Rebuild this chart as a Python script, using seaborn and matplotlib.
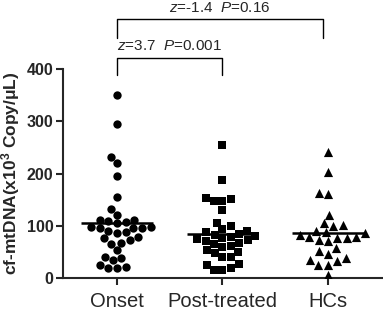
import numpy as np
import pandas as pd
import seaborn as sns
import matplotlib.pyplot as plt

groups = ['Onset', 'Post-treated', 'HCs']
onset = [351, 294, 232, 221, 196, 156, 133, 121,
         112, 111, 109, 107, 105, 98, 97, 96, 95, 95,
         90, 88, 86, 78, 76, 72, 68, 66, 54, 41, 38, 34,
         25, 22, 20, 20]
post_treated = [254, 188, 153, 152, 147, 147, 130, 106, 99, 93,
                90, 88, 85, 83, 80, 78, 76, 74, 72, 70, 67, 65, 62, 60,
                54, 50, 47, 41, 40, 27, 25, 19, 16, 15]
hcs = [242, 202, 163, 160, 121, 106, 102, 99, 90, 88, 86, 82, 79, 78,
       77, 77, 73, 71, 57, 51, 46, 38, 34, 32, 25, 24, 6]
markers = ['o', 's', '^']
stats = [('$z$=3.7  $P$=0.001', 0, 1), ('$z$=-1.4  $P$=0.16', 0, 1.95)]

df = pd.DataFrame({
    'group': ['Onset'] * len(onset) + ['Post-treated'] * len(post_treated) + ['HCs'] * len(hcs),
    'value': onset + post_treated + hcs,
})

sns.set_style('ticks')
plt.rcParams['font.family'] = ['Liberation Sans', 'DejaVu Sans']
plt.rcParams['mathtext.fontset'] = 'custom'
plt.rcParams['mathtext.it'] = 'Liberation Sans:italic'
plt.rcParams['mathtext.rm'] = 'Liberation Sans'
plt.rcParams['mathtext.bf'] = 'Liberation Sans:bold'

fig = plt.figure(figsize=(3.83, 3.11), dpi=100)
ax = fig.add_axes([0.1645, 0.106, 0.8355, 0.672])

for g, m in zip(groups, markers):
    sub = df[df['group'] == g]
    sns.swarmplot(data=sub, x='group', y='value', order=groups, marker=m,
                  color='black', size=6.0 if m != '^' else 6.6, ax=ax, zorder=3)

for i, g in enumerate(groups):
    mu = df.loc[df['group'] == g, 'value'].mean()
    ax.hlines(mu, i - 0.34, i + 0.34, color='black', lw=1.8, zorder=4)

ax.set_xlim(-0.51, 2.52)
ax.set_ylim(0, 400)
ax.set_yticks([0, 100, 200, 300, 400])
ax.set_xlabel('')
ax.set_ylabel(r'cf-mtDNA(x10$^\mathbf{3}$ Copy/$\mathbf{\mu}$L)', fontsize=12.5,
              fontweight='bold', labelpad=3)
sns.despine(ax=ax)
for s in ['left', 'bottom']:
    ax.spines[s].set_linewidth(1.5)
ax.tick_params(axis='y', labelsize=11.5, width=1.5, length=5, pad=2)
ax.tick_params(axis='x', labelsize=14.5, width=1.5, length=5, pad=5)
for lab in ax.get_yticklabels():
    lab.set_fontweight('bold')

# significance brackets
levels = [(422, 388, 445), (495, 460, 516)]
for (txt, a, b), (top, leg, ty) in zip(stats, levels):
    ax.plot([a, a, b, b], [leg, top, top, leg], color='black', lw=1.0,
            clip_on=False)
    ax.text((a + b) / 2, ty, txt, ha='center', va='center', fontsize=11,
            clip_on=False)

fig.savefig('out.png', dpi=100)
